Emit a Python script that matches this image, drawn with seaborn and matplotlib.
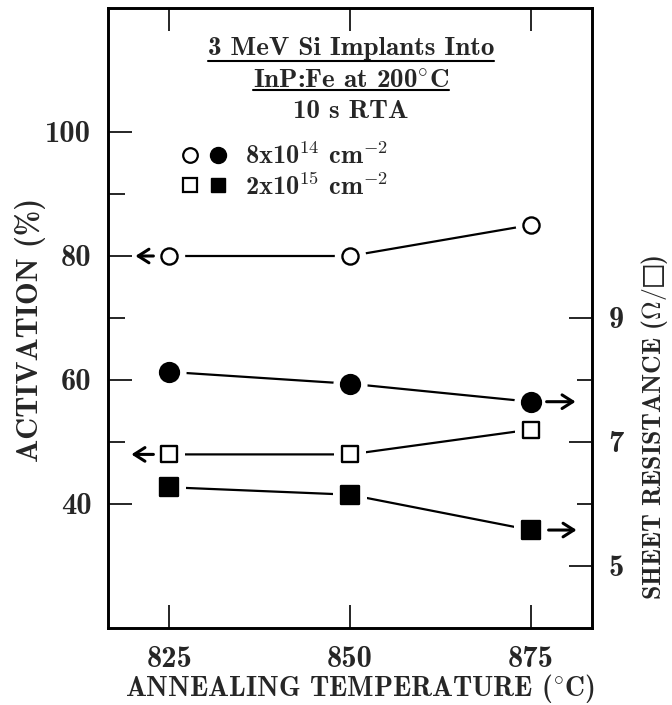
import matplotlib
matplotlib.use("Agg")
import matplotlib.pyplot as plt
from matplotlib.lines import Line2D
from matplotlib.legend_handler import HandlerTuple
from matplotlib.ticker import FixedLocator
from matplotlib.transforms import ScaledTranslation, IdentityTransform
import pandas as pd
import seaborn as sns

# Annealing temperatures (deg C)
temperature = [825, 850, 875]
# Electrical activation (%), left axis
act_8e14 = [80, 80, 85]
act_2e15 = [48, 48, 52]
# Sheet resistance (ohm/sq), right axis
rs_8e14 = [8.13, 7.94, 7.65]
rs_2e15 = [6.27, 6.15, 5.58]

temp_ticks = [825, 850, 875]
act_ticks = [40, 60, 80, 100]
act_minor = [50, 70, 90]
rs_ticks = [5, 7, 9]
rs_minor = [6, 8]

title_lines = ["3 MeV Si Implants Into", r"InP:Fe at 200$^{\circ}$C", "10 s RTA"]
dose_labels = [r"8x10$^{\mathbf{14}}$ cm$^{\mathbf{-2}}$",
               r"2x10$^{\mathbf{15}}$ cm$^{\mathbf{-2}}$"]
xlabel = r"ANNEALING TEMPERATURE (${}^{\circ}$C)"
ylabel_left = "ACTIVATION (%)"
ylabel_right = "SHEET RESISTANCE ($\\Omega/\u25a1$)"

sns.set_theme(style="ticks")
plt.rcParams["font.family"] = ["cmb10", "DejaVu Serif", "DejaVu Sans"]
plt.rcParams["mathtext.fontset"] = "cm"
plt.rcParams["axes.unicode_minus"] = False

df = pd.DataFrame({
    "temperature": temperature * 2,
    "activation": act_8e14 + act_2e15,
    "rs": rs_8e14 + rs_2e15,
    "dose": ["8e14"] * 3 + ["2e15"] * 3,
})

DPI = 100
fig = plt.figure(figsize=(6.72, 7.05), dpi=DPI)
ax = fig.add_axes([108 / 672, 1 - 628 / 705, 484 / 672, 620 / 705])
ax2 = ax.twinx()

LW = 1.6


def draw_series(axis, data, col, marker, filled, size):
    sns.lineplot(data=data, x="temperature", y=col, ax=axis, color="black",
                 lw=LW, zorder=2, legend=False)
    # white halo keeps the connecting line clear of the symbol
    sns.scatterplot(data=data, x="temperature", y=col, ax=axis, marker=marker,
                    s=(size ** 0.5 + 11) ** 2, color="white", edgecolor="white",
                    linewidth=0, zorder=3, legend=False)
    sns.scatterplot(data=data, x="temperature", y=col, ax=axis, marker=marker,
                    s=size, color=("black" if filled else "white"),
                    edgecolor="black", linewidth=1.7, zorder=4, legend=False)


low = df[df["dose"] == "8e14"]
high = df[df["dose"] == "2e15"]
draw_series(ax, low, "activation", "o", False, 135)
draw_series(ax, high, "activation", "s", False, 135)
draw_series(ax2, low, "rs", "o", True, 185)
draw_series(ax2, high, "rs", "s", True, 180)


def axis_arrow(axis, x, y, tail_px, tip_px):
    tail = axis.transData + ScaledTranslation(tail_px / DPI, 0, fig.dpi_scale_trans)
    tip = axis.transData + ScaledTranslation(tip_px / DPI, 0, fig.dpi_scale_trans)
    axis.annotate("", xy=(x, y), xycoords=tip, xytext=(x, y), textcoords=tail,
                  arrowprops=dict(arrowstyle="->,head_length=0.55,head_width=0.35",
                                  mutation_scale=14, lw=2.2, color="black",
                                  shrinkA=0, shrinkB=0), zorder=6)


axis_arrow(ax, temperature[0], act_8e14[0], -16, -34)
axis_arrow(ax, temperature[0], act_2e15[0], -16, -38)
axis_arrow(ax2, temperature[-1], rs_8e14[-1], 16, 45)
axis_arrow(ax2, temperature[-1], rs_2e15[-1], 18, 46)

# axes, limits and ticks
ax.set_xlim(816.5, 883.5)
ax.set_ylim(20, 120)
ax2.set_ylim(4, 14)
ax.set_xticks(temp_ticks)
ax.set_xticklabels([str(t) for t in temp_ticks])
ax.set_yticks(act_ticks)
ax.set_yticklabels([str(t) for t in act_ticks])
ax.yaxis.set_minor_locator(FixedLocator(act_minor))
ax2.set_yticks(rs_ticks)
ax2.set_yticklabels([str(t) for t in rs_ticks])
ax2.yaxis.set_minor_locator(FixedLocator(rs_minor))

TICK_FS = 22
ax.tick_params(axis="x", which="major", direction="in", top=True, length=16.5,
               width=1.4, pad=13, labelsize=TICK_FS)
ax.tick_params(axis="y", which="major", direction="in", left=True, right=False,
               length=17, width=1.4, pad=12, labelsize=TICK_FS)
ax.tick_params(axis="y", which="minor", direction="in", left=True, right=False,
               length=12, width=1.4)
ax2.tick_params(axis="y", which="major", direction="in", right=True, length=16.5,
                width=1.4, pad=12, labelsize=TICK_FS)
ax2.tick_params(axis="y", which="minor", direction="in", right=True, length=11,
                width=1.4)

for a in (ax, ax2):
    for sp in a.spines.values():
        sp.set_linewidth(1.9)
        sp.set_color("black")
    a.grid(False)

ax.set_xlabel(xlabel, fontsize=20)
ax.xaxis.set_label_coords(0.52, -0.098)
ax.xaxis.label.set_va("center")
ax.set_ylabel(ylabel_left, fontsize=22)
ax.yaxis.set_label_coords(-0.161, 0.48)
ax.yaxis.label.set_va("center")
ax2.set_ylabel(ylabel_right, fontsize=18.5)
ax2.yaxis.set_label_coords(1.13, 0.323)
ax2.yaxis.label.set_va("center")

# heading inside the frame
heading = []
for txt, yy in zip(title_lines, [0.924, 0.871, 0.823]):
    heading.append(ax.text(0.502, yy, txt, transform=ax.transAxes, ha="center",
                           va="baseline", fontsize=19.5, zorder=7))

# dose legend: open symbol = activation, filled symbol = sheet resistance
h_oc = Line2D([], [], ls="none", marker="o", ms=10.5, mfc="white", mec="black", mew=1.6)
h_fc = Line2D([], [], ls="none", marker="o", ms=11.5, mfc="black", mec="black", mew=1.0)
h_os = Line2D([], [], ls="none", marker="s", ms=10, mfc="white", mec="black", mew=1.6)
h_fs = Line2D([], [], ls="none", marker="s", ms=10.5, mfc="black", mec="black", mew=1.0)
leg = ax.legend([(h_oc, h_fc), (h_os, h_fs)], dose_labels,
                handler_map={tuple: HandlerTuple(ndivide=None, pad=0.3)},
                loc="upper left", bbox_to_anchor=(0.149, 0.783), frameon=False,
                fontsize=19, handlelength=1.82, handletextpad=0.64,
                labelspacing=0.14, borderpad=0, borderaxespad=0)

fig.canvas.draw()
renderer = fig.canvas.get_renderer()
for t, drop in zip(heading[:2], [6, 2.5]):
    bb = t.get_window_extent(renderer)
    base = t.get_transform().transform(t.get_position())[1]
    yline = base - drop
    fig.add_artist(Line2D([bb.x0, bb.x1], [yline, yline], transform=IdentityTransform(),
                          color="black", lw=1.5))

fig.savefig("out.png", dpi=DPI, facecolor="white")
